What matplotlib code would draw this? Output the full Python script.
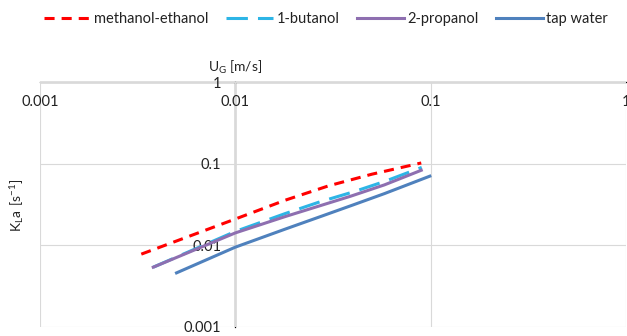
import matplotlib
matplotlib.use("Agg")
import matplotlib.pyplot as plt

plt.rcParams['font.family'] = ['Lato', 'DejaVu Sans']
plt.rcParams['mathtext.fontset'] = 'custom'
plt.rcParams['mathtext.rm'] = 'Lato'

# values (U_G in m/s, kLa in 1/s)
names = ['methanol-ethanol', '1-butanol', '2-propanol', 'tap water']

x_meoh = [0.0033, 0.01, 0.018, 0.030, 0.050, 0.0895]
y_meoh = [0.0078, 0.021, 0.0357, 0.0535, 0.0743, 0.102]

x_but = [0.0038, 0.01, 0.018, 0.027, 0.04, 0.058, 0.09]
y_but = [0.0054, 0.0148, 0.0245, 0.034, 0.045, 0.0605, 0.090]

x_prop = [0.0038, 0.01, 0.018, 0.039, 0.058, 0.0895]
y_prop = [0.0054, 0.0142, 0.0225, 0.040, 0.055, 0.083]

x_tap = [0.005, 0.01, 0.018, 0.028, 0.04, 0.058, 0.099]
y_tap = [0.0046, 0.0095, 0.0158, 0.0230, 0.0312, 0.0430, 0.0703]

x_ticks = [0.001, 0.01, 0.1, 1]
x_ticklabels = ['0.001', '0.01', '0.1', '1']
y_ticks = [0.001, 0.01, 0.1, 1]
y_ticklabels = ['0.001', '0.01', '0.1', '1']

fs = 10.5
txt = '#222222'

fig = plt.figure(figsize=(6.27, 3.36), dpi=100)
ax = fig.add_axes([40/627, 9/336, 586/627, 245/336])

lw = 2.2
ax.plot(x_meoh, y_meoh, color='#ff0000', lw=lw, dashes=(3.3, 2.3),
        dash_capstyle='butt', label=names[0])
ax.plot(x_but, y_but, color='#2db5e6', lw=lw, dashes=(7, 3.3),
        dash_capstyle='butt', label=names[1])
ax.plot(x_prop, y_prop, color='#8e6fb0', lw=lw, label=names[2])
ax.plot(x_tap, y_tap, color='#4f81bd', lw=lw, label=names[3])

ax.set_xscale('log')
ax.set_yscale('log')
ax.set_xlim(0.001, 1)
ax.set_ylim(0.001, 1)

ax.set_xticks(x_ticks)
ax.set_xticklabels(x_ticklabels)
ax.set_yticks(y_ticks)
ax.set_yticklabels(y_ticklabels)
ax.minorticks_off()
ax.tick_params(axis='both', length=0, labelsize=fs, colors=txt)
ax.tick_params(axis='x', pad=9)
ax.tick_params(axis='y', pad=10)

ax.grid(True, color='#d9d9d9', lw=0.8)
ax.set_axisbelow(True)

# axes cross at x=0.01 and y=1
ax.spines['bottom'].set_position(('data', 1))
ax.spines['left'].set_position(('data', 0.01))
ax.spines['top'].set_visible(False)
ax.spines['right'].set_visible(False)
for s in ['bottom', 'left']:
    ax.spines[s].set_color('#000000')
    ax.spines[s].set_linewidth(0.9)
    ax.spines[s].set_zorder(0.5)

ax.annotate(r'$\mathregular{U_G}$ [m/s]', xy=(0.01, 1),
            xycoords=('data', 'axes fraction'), xytext=(0, 4),
            textcoords='offset points', ha='center', va='bottom',
            fontsize=fs - 0.5, color=txt, annotation_clip=False)

fig.text(17/627, 1 - 205/336, r'$\mathregular{K_La\ [s^{-1}]}$', rotation=90,
         ha='center', va='center', fontsize=fs - 0.5, color=txt)

fig.legend(loc='center', bbox_to_anchor=(0.52, 1 - 19/336), ncol=4,
           frameon=False, fontsize=fs, handlelength=3.2, handletextpad=0.25,
           columnspacing=1.2, labelcolor=txt)

fig.savefig('out.png', dpi=100)
